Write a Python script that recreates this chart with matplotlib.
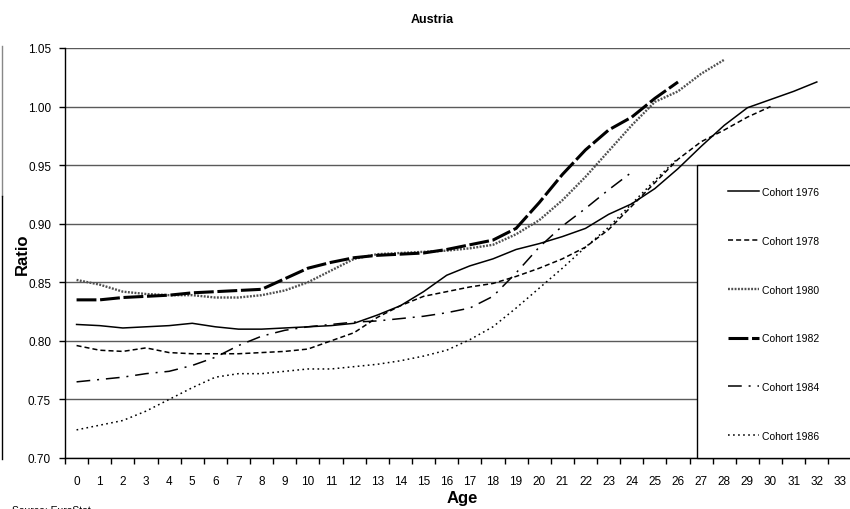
import numpy as np
import matplotlib
matplotlib.use("Agg")
import matplotlib.pyplot as plt
from matplotlib.lines import Line2D
from matplotlib.patches import Rectangle

plt.rcParams['font.family'] = ['Liberation Sans', 'DejaVu Sans']

# ratio by age, one list per cohort (age starts at 0)
c1976 = [0.814, 0.813, 0.811, 0.812, 0.813, 0.815, 0.812, 0.810, 0.810, 0.811,
         0.812, 0.813, 0.815, 0.822, 0.830, 0.842, 0.856, 0.864, 0.870, 0.878,
         0.883, 0.889, 0.896, 0.908, 0.917, 0.930, 0.947, 0.966, 0.984, 0.999,
         1.006, 1.013, 1.021]
c1978 = [0.796, 0.792, 0.791, 0.794, 0.790, 0.789, 0.789, 0.789, 0.790, 0.791,
         0.793, 0.800, 0.807, 0.820, 0.830, 0.838, 0.842, 0.846, 0.849, 0.855,
         0.862, 0.870, 0.880, 0.895, 0.915, 0.935, 0.955, 0.970, 0.980, 0.991,
         1.000]
c1980 = [0.852, 0.848, 0.842, 0.840, 0.839, 0.839, 0.837, 0.837, 0.839, 0.843,
         0.850, 0.860, 0.870, 0.874, 0.875, 0.876, 0.877, 0.879, 0.882, 0.891,
         0.903, 0.920, 0.940, 0.962, 0.984, 1.004, 1.013, 1.028, 1.040]
c1982 = [0.835, 0.835, 0.837, 0.838, 0.839, 0.841, 0.842, 0.843, 0.844, 0.853,
         0.862, 0.867, 0.871, 0.873, 0.874, 0.875, 0.878, 0.882, 0.886, 0.896,
         0.918, 0.942, 0.963, 0.980, 0.991, 1.007, 1.021]
c1984 = [0.765, 0.767, 0.769, 0.772, 0.774, 0.779, 0.786, 0.796, 0.804, 0.809,
         0.812, 0.814, 0.816, 0.817, 0.819, 0.821, 0.824, 0.828, 0.838, 0.858,
         0.880, 0.898, 0.913, 0.929, 0.944]
c1986 = [0.724, 0.728, 0.732, 0.740, 0.750, 0.760, 0.769, 0.772, 0.772, 0.774,
         0.776, 0.776, 0.778, 0.780, 0.783, 0.787, 0.792, 0.801, 0.812, 0.828,
         0.845, 0.862, 0.880, 0.897, 0.917, 0.937, 0.956]

labels = ['Cohort 1976', 'Cohort 1978', 'Cohort 1980',
          'Cohort 1982', 'Cohort 1984', 'Cohort 1986']
age_ticks = list(range(34))

W, H = 850, 510
fig = plt.figure(figsize=(8.5, 5.1), dpi=100)
ax = fig.add_axes([65 / W, 1 - 459 / H, (851.5 - 65) / W, 410 / H])

styles = [
    dict(color='black', lw=1.1, ls='-'),
    dict(color='black', lw=1.1, ls=(0, (3.3, 2.0))),
    dict(color='#505050', lw=1.7, ls=(0, (0.8, 0.6))),
    dict(color='black', lw=2.2, ls=(0, (6.5, 1.2))),
    dict(color='black', lw=1.1, ls=(0, (9, 4.5, 1.3, 4.5))),
    dict(color='black', lw=1.1, ls=(0, (1.1, 2.2))),
]
handles = []
for data, st, lab in zip([c1976, c1978, c1980, c1982, c1984, c1986], styles, labels):
    h, = ax.plot(np.arange(len(data)), data, label=lab, zorder=3, **st)
    handles.append(h)

ax.set_xlim(-0.5, 33.5)
ax.set_ylim(0.70, 1.05)
ax.set_yticks(np.arange(0.70, 1.051, 0.05))
ax.set_yticklabels(['%.2f' % v for v in np.arange(0.70, 1.051, 0.05)])
ax.set_xticks(age_ticks)
ax.set_xticklabels([str(a) for a in age_ticks])
ax.set_xticks(np.arange(-0.5, 34, 1), minor=True)
ax.tick_params(axis='x', which='major', length=0, pad=12, labelsize=8.5)
ax.tick_params(axis='x', which='minor', length=4, width=1, direction='out')
ax.tick_params(axis='y', length=4, width=1, direction='out', pad=6, labelsize=8.5)
ax.yaxis.grid(True, color='#5a5a5a', lw=1, zorder=1)
ax.set_axisbelow(True)
for s in ['top', 'right']:
    ax.spines[s].set_visible(False)
ax.spines['left'].set_linewidth(1)
ax.spines['bottom'].set_linewidth(1)

fig.text(432 / W, 1 - 20 / H, 'Austria', ha='center', va='center',
         fontsize=9, fontweight='bold')
fig.text(22 / W, 1 - 254 / H, 'Ratio', ha='center', va='center',
         rotation=90, fontsize=12, fontweight='bold')
fig.text(462 / W, 1 - 499 / H, 'Age', ha='center', va='center',
         fontsize=12, fontweight='bold')
fig.text(12 / W, 1 - 506.5 / H, 'Source: EuroStat', ha='left', va='top', fontsize=7.5)

# legend box sitting on the plot
fig.add_artist(Rectangle((697 / W, 1 - 459 / H), (880 - 697) / W, (459 - 166) / H,
                         transform=fig.transFigure, facecolor='white',
                         edgecolor='black', lw=1, zorder=4))
fig.legend(handles, labels, loc='upper left',
           bbox_to_anchor=(728 / W, 1 - 188 / H), bbox_transform=fig.transFigure,
           frameon=False, fontsize=7.5, handlelength=3.0, handletextpad=0.25,
           labelspacing=3.72, borderpad=0, borderaxespad=0)

# edge of the neighbouring chart, cropped
fig.add_artist(Line2D([2 / W, 2 / W], [1 - 47 / H, 1 - 197 / H],
                      transform=fig.transFigure, color='#888888', lw=1))
fig.add_artist(Line2D([2 / W, 2 / W], [1 - 197 / H, 1 - 460 / H],
                      transform=fig.transFigure, color='black', lw=1))

fig.savefig('out.png', dpi=100)
